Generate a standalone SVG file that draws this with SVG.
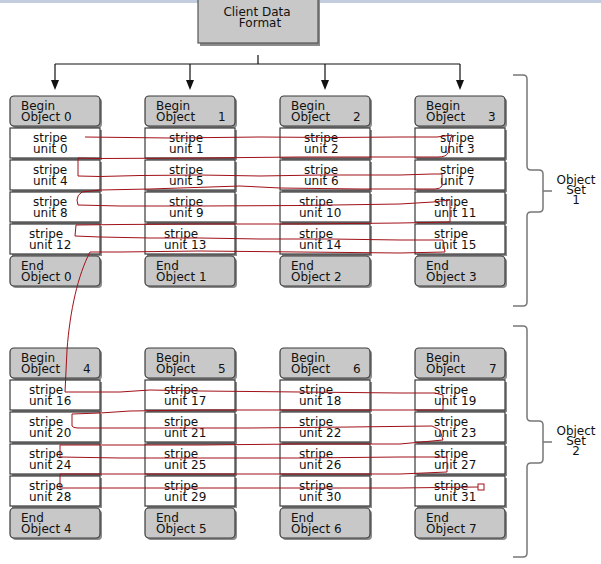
<svg xmlns="http://www.w3.org/2000/svg" width="601" height="564" viewBox="0 0 601 564">
<defs>
<style>
.g{fill:#c8c8c8;stroke:#3a3a3a;stroke-width:1.2}
.w{fill:#ffffff;stroke:#3a3a3a;stroke-width:1.2}
.sh{fill:#8c8c8c}
text{font-family:"DejaVu Sans","Liberation Sans",sans-serif;font-size:12px;fill:#111}
.c{text-anchor:middle}
.ln{stroke:#111;stroke-width:1.2;fill:none}
.br{stroke:#777;stroke-width:1.5;fill:none}
.red{stroke:#a01018;stroke-width:1;fill:none}
</style>
</defs>
<rect x="0" y="0" width="601" height="564" fill="#ffffff"/>
<rect x="0" y="0" width="601" height="3" fill="#c4cde0"/>

<g id="client">
<rect class="sh" x="200" y="0" width="120" height="46"/>
<rect class="g" x="198" y="-2" width="120" height="45" style="stroke:#555"/>
<text class="c"><tspan x="257" y="16">Client Data</tspan><tspan x="260" y="26.5">Format</tspan></text>
</g>

<g id="connectors">
<path class="ln" d="M258,55 V64 M55,64 H460"/>
<path class="ln" d="M55,64 V81 M190,64 V81 M325,64 V81 M460,64 V81"/>
<path d="M51,80 L59,80 L55,90 Z M186,80 L194,80 L190,90 Z M321,80 L329,80 L325,90 Z M456,80 L464,80 L460,90 Z" fill="#111"/>
</g>

<!-- Object Set 1 -->
<g id="obj0">
<rect class="sh" x="12" y="98" width="90" height="30" rx="4"/><rect class="g" x="10" y="96" width="90" height="30" rx="4"/>
<text><tspan x="21" y="110">Begin</tspan><tspan x="21" y="120.5">Object 0</tspan></text>
<rect class="sh" x="12" y="130" width="90" height="30"/><rect class="w" x="10" y="128" width="90" height="30"/>
<text><tspan x="33" y="142">stripe</tspan><tspan x="33" y="152.5">unit 0</tspan></text>
<rect class="sh" x="12" y="162" width="90" height="30"/><rect class="w" x="10" y="160" width="90" height="30"/>
<text><tspan x="33" y="174">stripe</tspan><tspan x="33" y="184.5">unit 4</tspan></text>
<rect class="sh" x="12" y="194" width="90" height="30"/><rect class="w" x="10" y="192" width="90" height="30"/>
<text><tspan x="33" y="206">stripe</tspan><tspan x="33" y="216.5">unit 8</tspan></text>
<rect class="sh" x="12" y="226" width="90" height="30"/><rect class="w" x="10" y="224" width="90" height="30"/>
<text><tspan x="29" y="238">stripe</tspan><tspan x="29" y="248.5">unit 12</tspan></text>
<rect class="sh" x="12" y="258" width="90" height="30" rx="4"/><rect class="g" x="10" y="256" width="90" height="30" rx="4"/>
<text><tspan x="21" y="270">End</tspan><tspan x="21" y="280.5">Object 0</tspan></text>
</g>

<g id="obj1">
<rect class="sh" x="147" y="98" width="90" height="30" rx="4"/><rect class="g" x="145" y="96" width="90" height="30" rx="4"/>
<text><tspan x="156" y="110">Begin</tspan><tspan x="156" y="120.5">Object</tspan><tspan x="218" y="120.5">1</tspan></text>
<rect class="sh" x="147" y="130" width="90" height="30"/><rect class="w" x="145" y="128" width="90" height="30"/>
<text><tspan x="169" y="142">stripe</tspan><tspan x="169" y="152.5">unit 1</tspan></text>
<rect class="sh" x="147" y="162" width="90" height="30"/><rect class="w" x="145" y="160" width="90" height="30"/>
<text><tspan x="169" y="174">stripe</tspan><tspan x="169" y="184.5">unit 5</tspan></text>
<rect class="sh" x="147" y="194" width="90" height="30"/><rect class="w" x="145" y="192" width="90" height="30"/>
<text><tspan x="169" y="206">stripe</tspan><tspan x="169" y="216.5">unit 9</tspan></text>
<rect class="sh" x="147" y="226" width="90" height="30"/><rect class="w" x="145" y="224" width="90" height="30"/>
<text><tspan x="164" y="238">stripe</tspan><tspan x="164" y="248.5">unit 13</tspan></text>
<rect class="sh" x="147" y="258" width="90" height="30" rx="4"/><rect class="g" x="145" y="256" width="90" height="30" rx="4"/>
<text><tspan x="156" y="270">End</tspan><tspan x="156" y="280.5">Object 1</tspan></text>
</g>

<g id="obj2">
<rect class="sh" x="282" y="98" width="90" height="30" rx="4"/><rect class="g" x="280" y="96" width="90" height="30" rx="4"/>
<text><tspan x="291" y="110">Begin</tspan><tspan x="291" y="120.5">Object</tspan><tspan x="353" y="120.5">2</tspan></text>
<rect class="sh" x="282" y="130" width="90" height="30"/><rect class="w" x="280" y="128" width="90" height="30"/>
<text><tspan x="304" y="142">stripe</tspan><tspan x="304" y="152.5">unit 2</tspan></text>
<rect class="sh" x="282" y="162" width="90" height="30"/><rect class="w" x="280" y="160" width="90" height="30"/>
<text><tspan x="304" y="174">stripe</tspan><tspan x="304" y="184.5">unit 6</tspan></text>
<rect class="sh" x="282" y="194" width="90" height="30"/><rect class="w" x="280" y="192" width="90" height="30"/>
<text><tspan x="299" y="206">stripe</tspan><tspan x="299" y="216.5">unit 10</tspan></text>
<rect class="sh" x="282" y="226" width="90" height="30"/><rect class="w" x="280" y="224" width="90" height="30"/>
<text><tspan x="299" y="238">stripe</tspan><tspan x="299" y="248.5">unit 14</tspan></text>
<rect class="sh" x="282" y="258" width="90" height="30" rx="4"/><rect class="g" x="280" y="256" width="90" height="30" rx="4"/>
<text><tspan x="291" y="270">End</tspan><tspan x="291" y="280.5">Object 2</tspan></text>
</g>

<g id="obj3">
<rect class="sh" x="417" y="98" width="90" height="30" rx="4"/><rect class="g" x="415" y="96" width="90" height="30" rx="4"/>
<text><tspan x="426" y="110">Begin</tspan><tspan x="426" y="120.5">Object</tspan><tspan x="488" y="120.5">3</tspan></text>
<rect class="sh" x="417" y="130" width="90" height="30"/><rect class="w" x="415" y="128" width="90" height="30"/>
<text><tspan x="440" y="142">stripe</tspan><tspan x="440" y="152.5">unit 3</tspan></text>
<rect class="sh" x="417" y="162" width="90" height="30"/><rect class="w" x="415" y="160" width="90" height="30"/>
<text><tspan x="440" y="174">stripe</tspan><tspan x="440" y="184.5">unit 7</tspan></text>
<rect class="sh" x="417" y="194" width="90" height="30"/><rect class="w" x="415" y="192" width="90" height="30"/>
<text><tspan x="434" y="206">stripe</tspan><tspan x="434" y="216.5">unit 11</tspan></text>
<rect class="sh" x="417" y="226" width="90" height="30"/><rect class="w" x="415" y="224" width="90" height="30"/>
<text><tspan x="434" y="238">stripe</tspan><tspan x="434" y="248.5">unit 15</tspan></text>
<rect class="sh" x="417" y="258" width="90" height="30" rx="4"/><rect class="g" x="415" y="256" width="90" height="30" rx="4"/>
<text><tspan x="426" y="270">End</tspan><tspan x="426" y="280.5">Object 3</tspan></text>
</g>

<!-- Object Set 2 -->
<g id="obj4">
<rect class="sh" x="12" y="350" width="90" height="30" rx="4"/><rect class="g" x="10" y="348" width="90" height="30" rx="4"/>
<text><tspan x="21" y="362">Begin</tspan><tspan x="21" y="372.5">Object</tspan><tspan x="83" y="372.5">4</tspan></text>
<rect class="sh" x="12" y="382" width="90" height="30"/><rect class="w" x="10" y="380" width="90" height="30"/>
<text><tspan x="29" y="394">stripe</tspan><tspan x="29" y="404.5">unit 16</tspan></text>
<rect class="sh" x="12" y="414" width="90" height="30"/><rect class="w" x="10" y="412" width="90" height="30"/>
<text><tspan x="29" y="426">stripe</tspan><tspan x="29" y="436.5">unit 20</tspan></text>
<rect class="sh" x="12" y="446" width="90" height="30"/><rect class="w" x="10" y="444" width="90" height="30"/>
<text><tspan x="29" y="458">stripe</tspan><tspan x="29" y="468.5">unit 24</tspan></text>
<rect class="sh" x="12" y="478" width="90" height="30"/><rect class="w" x="10" y="476" width="90" height="30"/>
<text><tspan x="29" y="490">stripe</tspan><tspan x="29" y="500.5">unit 28</tspan></text>
<rect class="sh" x="12" y="510" width="90" height="30" rx="4"/><rect class="g" x="10" y="508" width="90" height="30" rx="4"/>
<text><tspan x="21" y="522">End</tspan><tspan x="21" y="532.5">Object 4</tspan></text>
</g>

<g id="obj5">
<rect class="sh" x="147" y="350" width="90" height="30" rx="4"/><rect class="g" x="145" y="348" width="90" height="30" rx="4"/>
<text><tspan x="156" y="362">Begin</tspan><tspan x="156" y="372.5">Object</tspan><tspan x="218" y="372.5">5</tspan></text>
<rect class="sh" x="147" y="382" width="90" height="30"/><rect class="w" x="145" y="380" width="90" height="30"/>
<text><tspan x="164" y="394">stripe</tspan><tspan x="164" y="404.5">unit 17</tspan></text>
<rect class="sh" x="147" y="414" width="90" height="30"/><rect class="w" x="145" y="412" width="90" height="30"/>
<text><tspan x="164" y="426">stripe</tspan><tspan x="164" y="436.5">unit 21</tspan></text>
<rect class="sh" x="147" y="446" width="90" height="30"/><rect class="w" x="145" y="444" width="90" height="30"/>
<text><tspan x="164" y="458">stripe</tspan><tspan x="164" y="468.5">unit 25</tspan></text>
<rect class="sh" x="147" y="478" width="90" height="30"/><rect class="w" x="145" y="476" width="90" height="30"/>
<text><tspan x="164" y="490">stripe</tspan><tspan x="164" y="500.5">unit 29</tspan></text>
<rect class="sh" x="147" y="510" width="90" height="30" rx="4"/><rect class="g" x="145" y="508" width="90" height="30" rx="4"/>
<text><tspan x="156" y="522">End</tspan><tspan x="156" y="532.5">Object 5</tspan></text>
</g>

<g id="obj6">
<rect class="sh" x="282" y="350" width="90" height="30" rx="4"/><rect class="g" x="280" y="348" width="90" height="30" rx="4"/>
<text><tspan x="291" y="362">Begin</tspan><tspan x="291" y="372.5">Object</tspan><tspan x="353" y="372.5">6</tspan></text>
<rect class="sh" x="282" y="382" width="90" height="30"/><rect class="w" x="280" y="380" width="90" height="30"/>
<text><tspan x="299" y="394">stripe</tspan><tspan x="299" y="404.5">unit 18</tspan></text>
<rect class="sh" x="282" y="414" width="90" height="30"/><rect class="w" x="280" y="412" width="90" height="30"/>
<text><tspan x="299" y="426">stripe</tspan><tspan x="299" y="436.5">unit 22</tspan></text>
<rect class="sh" x="282" y="446" width="90" height="30"/><rect class="w" x="280" y="444" width="90" height="30"/>
<text><tspan x="299" y="458">stripe</tspan><tspan x="299" y="468.5">unit 26</tspan></text>
<rect class="sh" x="282" y="478" width="90" height="30"/><rect class="w" x="280" y="476" width="90" height="30"/>
<text><tspan x="299" y="490">stripe</tspan><tspan x="299" y="500.5">unit 30</tspan></text>
<rect class="sh" x="282" y="510" width="90" height="30" rx="4"/><rect class="g" x="280" y="508" width="90" height="30" rx="4"/>
<text><tspan x="291" y="522">End</tspan><tspan x="291" y="532.5">Object 6</tspan></text>
</g>

<g id="obj7">
<rect class="sh" x="417" y="350" width="90" height="30" rx="4"/><rect class="g" x="415" y="348" width="90" height="30" rx="4"/>
<text><tspan x="426" y="362">Begin</tspan><tspan x="426" y="372.5">Object</tspan><tspan x="489" y="372.5">7</tspan></text>
<rect class="sh" x="417" y="382" width="90" height="30"/><rect class="w" x="415" y="380" width="90" height="30"/>
<text><tspan x="434" y="394">stripe</tspan><tspan x="434" y="404.5">unit 19</tspan></text>
<rect class="sh" x="417" y="414" width="90" height="30"/><rect class="w" x="415" y="412" width="90" height="30"/>
<text><tspan x="434" y="426">stripe</tspan><tspan x="434" y="436.5">unit 23</tspan></text>
<rect class="sh" x="417" y="446" width="90" height="30"/><rect class="w" x="415" y="444" width="90" height="30"/>
<text><tspan x="434" y="458">stripe</tspan><tspan x="434" y="468.5">unit 27</tspan></text>
<rect class="sh" x="417" y="478" width="90" height="30"/><rect class="w" x="415" y="476" width="90" height="30"/>
<text><tspan x="434" y="490">stripe</tspan><tspan x="434" y="500.5">unit 31</tspan></text>
<rect class="sh" x="417" y="510" width="90" height="30" rx="4"/><rect class="g" x="415" y="508" width="90" height="30" rx="4"/>
<text><tspan x="426" y="522">End</tspan><tspan x="426" y="532.5">Object 7</tspan></text>
</g>

<g id="set1">
<path class="br" d="M513,75 H523 Q527,75 527,79 V166 Q527,170 531,170 H539 Q543,170 543,174 V208 Q543,212 539,212 H531 Q527,212 527,216 V302 Q527,306 523,306 H513 M543,191 H552"/>
<text class="c"><tspan x="576" y="183.5">Object</tspan><tspan x="576" y="193.5">Set</tspan><tspan x="576" y="203.5">1</tspan></text>
</g>

<g id="set2">
<path class="br" d="M513,326 H523 Q527,326 527,330 V417 Q527,421 531,421 H539 Q543,421 543,425 V459 Q543,463 539,463 H531 Q527,463 527,467 V553 Q527,557 523,557 H513 M543,442 H552"/>
<text class="c"><tspan x="576" y="434.5">Object</tspan><tspan x="576" y="444.5">Set</tspan><tspan x="576" y="454.5">2</tspan></text>
</g>

<g id="annotation">
<path class="red" d="M85,137 L170,138 L260,137 L330,137.5 L400,137 L437,137 L452,135 L450,140 L448,153 Q446,157 438,157 L380,157 L300,157 L200,158 L100,158.5 L78,158 L78,176 L100,176.5 L140,175.5 L200,175 L260,176 L320,175 L400,175 L432,174 L442,174 L442,186 Q440,189 435,189 L360,189 L280,188 L240,186 L150,189 L100,190 L82,192 Q77,195 77,200 L78,205 L120,206 L200,206 L300,205.5 L400,204 L433,202 L450,200 L450,222 L400,223 L300,224 L200,224 L120,224.5 L76,225 L75,236 L100,237 L150,238 L200,238 L260,239 L330,239 L400,240 L443,240 L445,252 L400,253 L300,252 L200,251 L120,252 L90,252 C78,275 70,310 67,350 L65,392 L120,392 L150,390 L200,391 L300,392 L400,393 L435,393 L443,395 L443,410 L400,410 L300,410 L200,410 L130,411 L100,413 L72,414 L72,426 Q73,428 78,428 L150,428 L250,428 L350,427 L432,426 L440,430 L443,440 L400,444 L300,444 L200,445 L87,445 L60,445 L60,457 L120,458 L200,458 L300,458 L400,457 L447,457 L447,472 L400,474 L300,474 L200,474 L60,474 L60,488 L200,488 L300,488 L400,488 L478,487"/>
<rect class="red" x="478" y="484" width="6" height="6"/>
</g>
</svg>
